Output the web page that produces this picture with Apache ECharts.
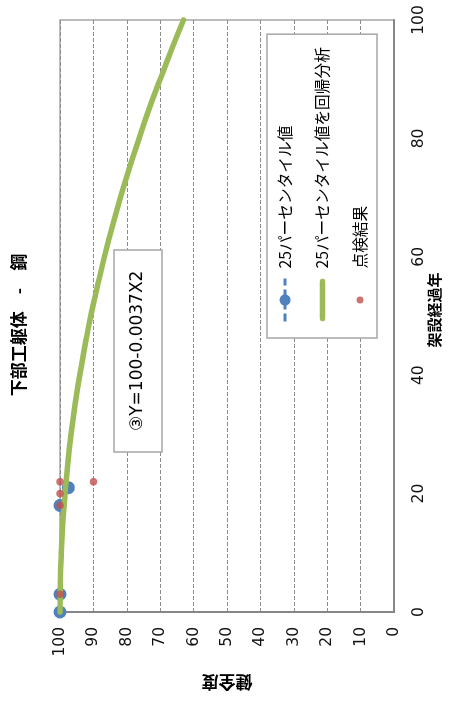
<!DOCTYPE html>
<html>
<head>
<meta charset="utf-8">
<script src="https://cdn.jsdelivr.net/npm/echarts@6/dist/echarts.min.js"></script>
<style>
  html, body { margin: 0; padding: 0; width: 454px; height: 702px; overflow: hidden; background: #fff; }
  /* chart is laid out landscape and turned a quarter turn counter-clockwise */
  #chart { position: absolute; left: 0; top: 0; width: 702px; height: 454px;
           transform-origin: 0 0; transform: translate(0, 702px) rotate(-90deg); }
</style>
</head>
<body>
<div id="chart"></div>
<script>
// ---- data ----
const chartTitle = '下部工躯体　-　鋼';
const xAxisName = '架設経過年';
const yAxisName = '健全度';
const equationText = '③Y=100-0.0037X2';

const yearTicks = [0, 20, 40, 60, 80, 100];
const scoreTicks = [0, 10, 20, 30, 40, 50, 60, 70, 80, 90, 100];

// 25th percentile of soundness per elapsed year
const pctName = '25パーセンタイル値';
const pctYears = [0, 3, 18, 21];
const pctValues = [100, 100, 100, 97.5];

// regression curve through the 25th percentile values
const fitName = '25パーセンタイル値を回帰分析';
const fitYears = [0, 5, 10, 15, 20, 25, 30, 35, 40, 45, 50, 55, 60, 65, 70, 75, 80, 85, 90, 95, 100];
const fitValues = [100, 99.9, 99.6, 99.2, 98.5, 97.7, 96.7, 95.5, 94.1, 92.5, 90.8, 88.8, 86.7, 84.4, 81.9, 79.2, 76.3, 73.3, 70.0, 66.6, 63.0];

// individual inspection results
const inspName = '点検結果';
const inspYears = [3, 18, 20, 22, 22];
const inspValues = [100, 100, 100, 100, 90];

// ---- helpers ----
const zip = (xs, ys) => xs.map((x, i) => [x, ys[i]]);
const numFont = '"DejaVu Sans", "Noto Sans CJK JP", sans-serif';
const jpFont = '"Noto Sans CJK JP", "DejaVu Sans", sans-serif';
const BLUE = '#4F81BD', GREEN = '#9BBB59', RED = '#C0504D';

// legend glyphs sized to the 43x14 legend cell
const dotIcon = 'path://M0,0L0,0M43,14L43,14M25,7A3.5,3.5 0 1 1 18,7A3.5,3.5 0 1 1 25,7Z';
const barIcon = 'path://M0,0L0,0M43,14L43,14M3,4.2L40,4.2A2.8,2.8 0 0 1 40,9.8L3,9.8A2.8,2.8 0 0 1 3,4.2Z';

const chart = echarts.init(document.getElementById('chart'), null, { renderer: 'canvas' });

chart.setOption({
  animation: false,
  backgroundColor: '#fff',
  title: {
    text: chartTitle,
    left: 377, top: 10, padding: 0,
    textAlign: 'center',
    textStyle: { fontFamily: jpFont, fontSize: 17, fontWeight: 'bold', color: '#000' }
  },
  grid: {
    left: 90, right: 20, top: 60, bottom: 60,
    containLabel: false, outerBoundsMode: 'none',
    show: true, borderColor: '#A6A6A6', borderWidth: 1.5, backgroundColor: 'transparent'
  },
  legend: {
    orient: 'vertical', left: 364, top: 267,
    padding: [8, 13, 7, 15],
    itemGap: 17.5, itemWidth: 43, itemHeight: 14,
    borderColor: '#A6A6A6', borderWidth: 1.5, backgroundColor: '#fff',
    textStyle: { fontFamily: jpFont, fontSize: 15.7, lineHeight: 20, color: '#000', padding: [0, 0, 0, 5] },
    data: [
      { name: pctName, lineStyle: { color: BLUE, width: 3, type: [8, 4], opacity: 1 } },
      { name: fitName, icon: barIcon },
      { name: inspName, icon: dotIcon }
    ]
  },
  xAxis: {
    type: 'value',
    min: yearTicks[0], max: yearTicks[yearTicks.length - 1],
    interval: yearTicks[1] - yearTicks[0],
    name: xAxisName, nameLocation: 'middle', nameGap: 33, nameMoveOverlap: false,
    nameTextStyle: { fontFamily: jpFont, fontSize: 15, fontWeight: 'bold', color: '#000', padding: [0, 0, 0, 12] },
    axisLine: { show: true, lineStyle: { color: '#868686', width: 2 } },
    axisTick: { show: false },
    splitLine: { show: false },
    axisLabel: { margin: 17, fontFamily: numFont, fontSize: 15.5, color: '#111' }
  },
  yAxis: {
    type: 'value',
    min: scoreTicks[0], max: scoreTicks[scoreTicks.length - 1],
    interval: scoreTicks[1] - scoreTicks[0],
    name: yAxisName, nameLocation: 'middle', nameRotate: 90, nameGap: 62, nameMoveOverlap: false,
    nameTextStyle: { fontFamily: jpFont, fontSize: 17, fontWeight: 'bold', color: '#000' },
    axisLine: { show: true, lineStyle: { color: '#868686', width: 2 } },
    axisTick: { show: false },
    splitLine: { show: true, lineStyle: { color: '#8C8C8C', width: 1, type: [4, 2] } },
    axisLabel: { margin: 15, fontFamily: numFont, fontSize: 15.5, color: '#111' }
  },
  graphic: {
    elements: [
      {
        type: 'rect', z: 100,
        shape: { x: 250, y: 114, width: 202, height: 48 },
        style: { fill: '#fff', stroke: '#A6A6A6', lineWidth: 1.5 }
      },
      {
        type: 'text', z: 101,
        x: 271, y: 138,
        style: { text: equationText, font: '17px ' + numFont, fill: '#000',
                 textAlign: 'left', textVerticalAlign: 'middle' }
      }
    ]
  },
  series: [
    {
      name: pctName, type: 'line', z: 2,
      data: zip(pctYears, pctValues),
      symbol: 'circle', symbolSize: 13, showAllSymbol: true,
      itemStyle: { color: BLUE },
      lineStyle: { color: BLUE, width: 3, type: [8, 4], opacity: 0 }
    },
    {
      name: fitName, type: 'line', z: 3,
      data: zip(fitYears, fitValues),
      symbol: 'none', smooth: true,
      itemStyle: { color: GREEN },
      lineStyle: { color: GREEN, width: 5.5, cap: 'round' }
    },
    {
      name: inspName, type: 'scatter', z: 4,
      data: zip(inspYears, inspValues),
      symbol: 'circle', symbolSize: 7.5,
      itemStyle: { color: RED }
    }
  ]
});
</script>
</body>
</html>
